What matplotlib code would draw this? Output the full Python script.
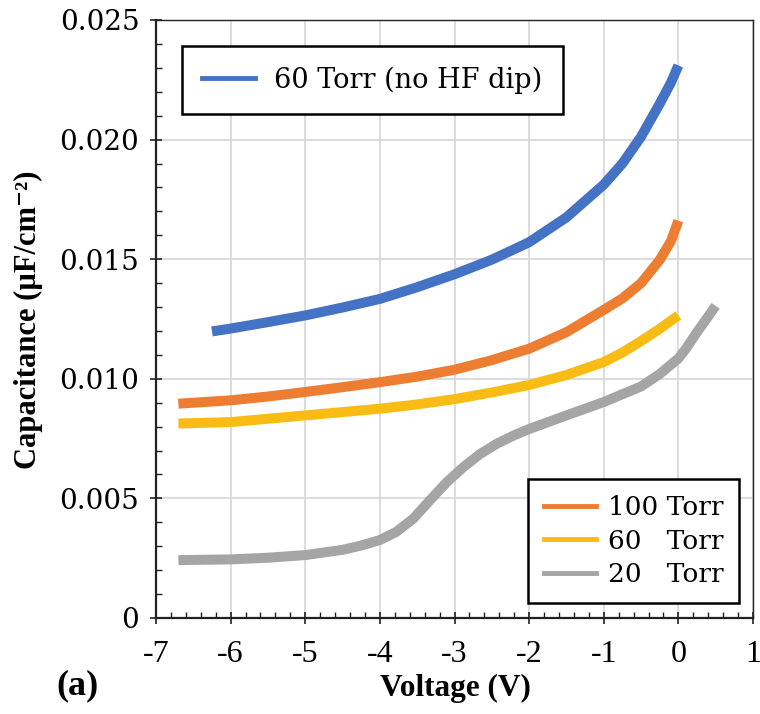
import matplotlib
matplotlib.use("Agg")
import matplotlib.pyplot as plt
from matplotlib.lines import Line2D
from matplotlib.ticker import MultipleLocator

# ---- data ----
v_blue = [-6.25, -6.0, -5.5, -5.0, -4.5, -4.0, -3.5, -3.0, -2.5, -2.0, -1.5, -1.0, -0.75, -0.5, -0.25, -0.1, 0.0]
c_blue = [0.01198, 0.01210, 0.01237, 0.01265, 0.01298, 0.01334, 0.01383, 0.01437, 0.01498, 0.01571, 0.01675,
          0.01812, 0.01900, 0.02012, 0.02150, 0.02238, 0.02310]

v_100 = [-6.7, -6.0, -5.5, -5.0, -4.5, -4.0, -3.5, -3.0, -2.5, -2.0, -1.5, -1.0, -0.75, -0.5, -0.25, -0.1, 0.0]
c_100 = [0.00896, 0.00910, 0.00926, 0.00945, 0.00965, 0.00986, 0.01009, 0.01038, 0.01078, 0.01126, 0.01195,
         0.01288, 0.01336, 0.01400, 0.01497, 0.01575, 0.01661]

v_60 = [-6.7, -6.0, -5.5, -5.0, -4.5, -4.0, -3.5, -3.0, -2.5, -2.0, -1.5, -1.0, -0.75, -0.5, -0.25, 0.0]
c_60 = [0.00813, 0.00819, 0.00833, 0.00847, 0.00861, 0.00875, 0.00893, 0.00915, 0.00943, 0.00974, 0.01016,
        0.01070, 0.01110, 0.01158, 0.01209, 0.01265]

v_20 = [-6.7, -6.0, -5.5, -5.0, -4.5, -4.25, -4.0, -3.78, -3.55, -3.33, -3.1, -2.88, -2.66, -2.43, -2.2,
        -2.0, -1.5, -1.0, -0.5, -0.25, 0.0, 0.1, 0.25, 0.5]
c_20 = [0.00242, 0.00245, 0.00252, 0.00263, 0.00285, 0.00303, 0.00326, 0.00360, 0.00416, 0.00492, 0.00569,
        0.00631, 0.00685, 0.00729, 0.00764, 0.00790, 0.00847, 0.00903, 0.00968, 0.01020, 0.01085, 0.01125,
        0.01195, 0.01305]

label_blue = "60 Torr (no HF dip)"
labels_low = ["100 Torr", "60   Torr", "20   Torr"]
col_blue = "#4472C4"
col_100 = "#ED7D31"
col_60 = "#F8BC14"
col_20 = "#A5A5A5"

fig = plt.figure(figsize=(7.6, 7.14), dpi=100)
ax = fig.add_axes([156/760, 1-618/714, (753-156)/760, (618-20)/714])

lw = 7.2
for v, c, col in ((v_blue, c_blue, col_blue), (v_100, c_100, col_100),
                  (v_60, c_60, col_60), (v_20, c_20, col_20)):
    ax.plot(v, c, color=col, lw=lw, solid_capstyle="butt", solid_joinstyle="round", zorder=3)

ax.set_xlim(-7, 1)
ax.set_ylim(0, 0.025)
ax.xaxis.set_major_locator(MultipleLocator(1))
ax.xaxis.set_minor_locator(MultipleLocator(0.2))
ax.yaxis.set_major_locator(MultipleLocator(0.005))
ax.yaxis.set_minor_locator(MultipleLocator(0.001))
ax.grid(True, which="major", color="#D9D9D9", lw=1.3, zorder=0)
ax.set_axisbelow(True)

for s in ax.spines.values():
    s.set_color("#222222")
    s.set_linewidth(1.0)
ax.spines["left"].set_linewidth(1.6)
ax.spines["bottom"].set_linewidth(1.6)

ax.tick_params(axis="both", which="major", direction="inout", length=8, width=1.2, color="#222222")
ax.tick_params(axis="both", which="minor", direction="in", length=4, width=1.0, color="#222222")
ax.tick_params(axis="y", which="major", pad=8)
ax.tick_params(axis="x", which="major", pad=12)

ax.set_yticks([0, 0.005, 0.010, 0.015, 0.020, 0.025])
ax.set_yticklabels(["0", "0.005", "0.010", "0.015", "0.020", "0.025"],
                   fontfamily="DejaVu Serif", fontsize=20)
xt = [-7, -6, -5, -4, -3, -2, -1, 0, 1]
ax.set_xticks(xt)
ax.set_xticklabels([str(t) for t in xt], fontfamily="Liberation Serif", fontsize=23)

fig.text(28/760, 1-320/714, "Capacitance (µF/cm⁻²)", rotation=90,
         ha="center", va="center", family=["Liberation Serif", "DejaVu Serif"],
         fontweight="bold", fontsize=22)
fig.text(455/760, 1-688/714, "Voltage (V)", ha="center", va="center",
         fontfamily="Liberation Serif", fontweight="bold", fontsize=22.5)
fig.text(77/760, 1-686/714, "(a)", ha="center", va="center",
         fontfamily="Liberation Serif", fontweight="bold", fontsize=26)

h1 = [Line2D([], [], color=col_blue, lw=3.5)]
leg1 = ax.legend(h1, [label_blue], loc="upper left", bbox_to_anchor=((182-156)/597, (618-46)/598),
                 prop={"family": "DejaVu Serif", "size": 19.5}, frameon=True, fancybox=False,
                 edgecolor="black", handlelength=1.95, handletextpad=0.7, borderpad=0.75,
                 borderaxespad=0, framealpha=1)
leg1.get_frame().set_linewidth(1.8)
ax.add_artist(leg1)

h2 = [Line2D([], [], color=c, lw=3.5) for c in (col_100, col_60, col_20)]
leg2 = ax.legend(h2, labels_low, loc="lower right", bbox_to_anchor=((739-156)/597, (618-603)/598),
                 prop={"family": "DejaVu Serif", "size": 19}, frameon=True, fancybox=False,
                 edgecolor="black", handlelength=1.95, handletextpad=0.45, borderpad=0.6,
                 labelspacing=0.32, borderaxespad=0, framealpha=1)
leg2.get_frame().set_linewidth(1.8)

fig.savefig("out.png", dpi=100)
